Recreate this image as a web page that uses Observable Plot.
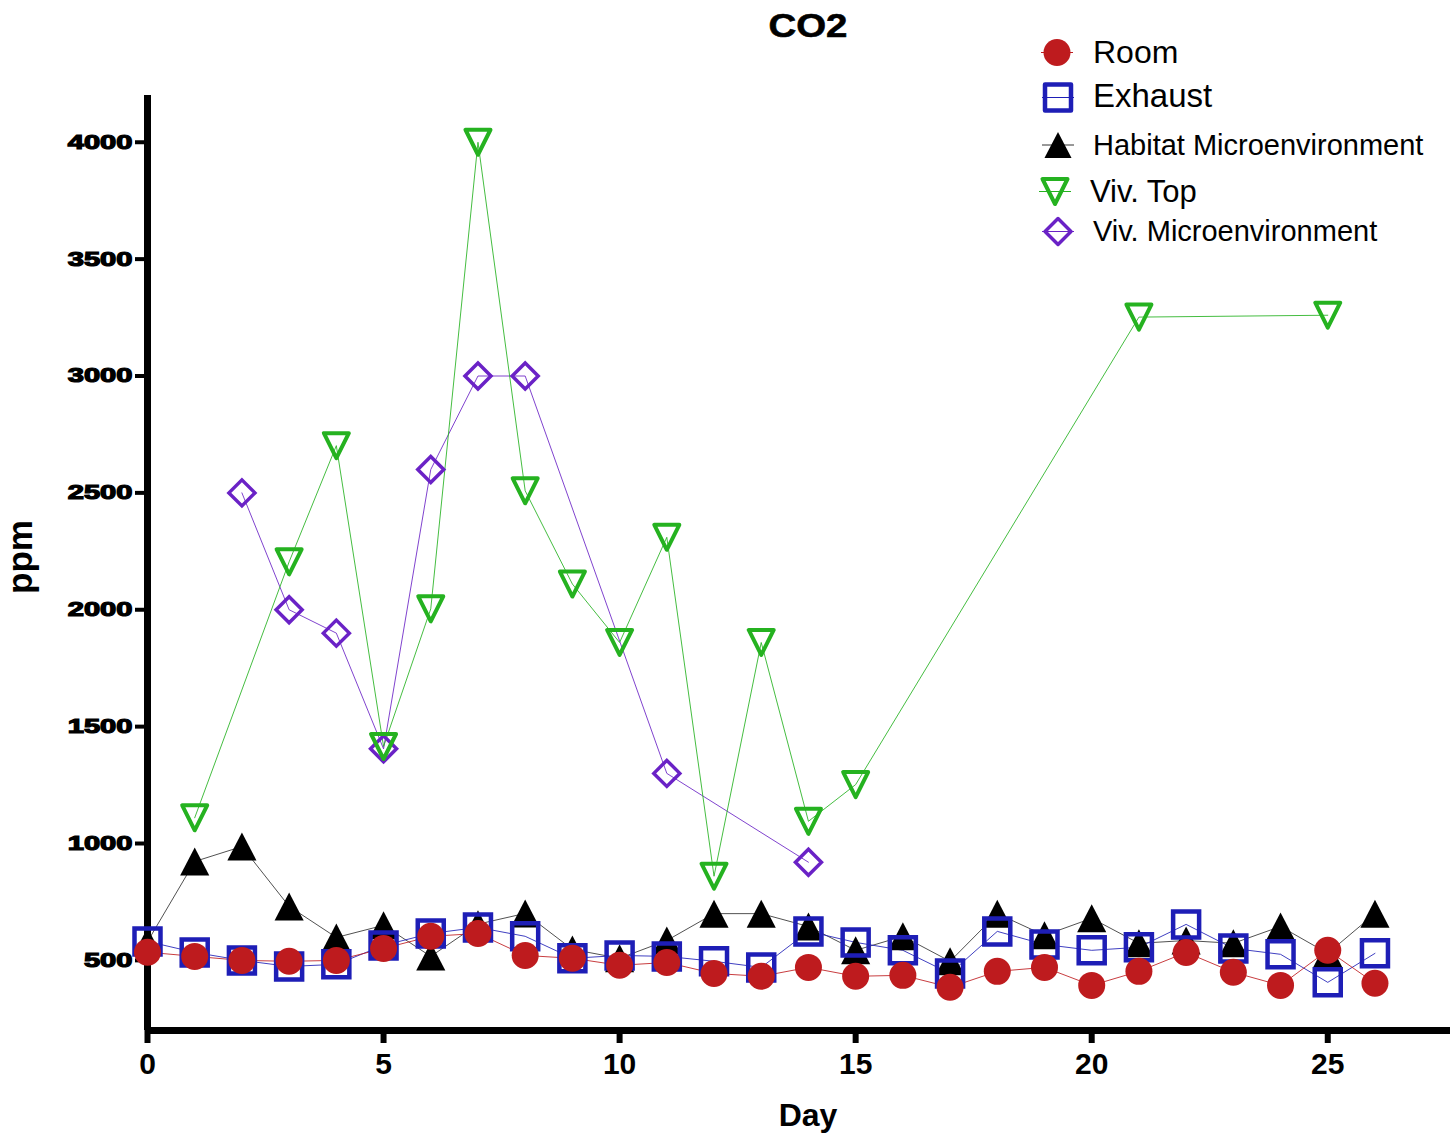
<!DOCTYPE html>
<html>
<head>
<meta charset="utf-8">
<script src="https://cdn.jsdelivr.net/npm/d3@7"></script>
<script src="https://cdn.jsdelivr.net/npm/@observablehq/plot@0.6"></script>
<style>
  body { margin: 0; background: #fff; }
  #wrap { position: relative; width: 1450px; height: 1134px; overflow: hidden; background: #fff; }
  #wrap > svg { position: absolute; left: 0; top: 0; }
  g[aria-label="y-axis tick label"] { font-family: "Liberation Sans", Arial, sans-serif; font-size: 20px; font-weight: bold; stroke: #000; stroke-width: 1.2px; }
  g[aria-label="x-axis tick label"] { font-family: "Liberation Sans", Arial, sans-serif; font-size: 30px; font-weight: bold; }
  #overlay text { font-family: "Liberation Sans", Arial, sans-serif; fill: #000; }
</style>
</head>
<body>
<div id="wrap"></div>
<script>
// ---- data ----
const days = [0,1,2,3,4,5,6,7,8,9,10,11,12,13,14,15,16,17,18,19,20,21,22,23,24,25,26];
const room = [535,517,500,496,500,551,603,615,521,509,479,491,444,432,470,432,436,385,453,470,393,453,534,449,393,543,402];
const exhaust = [581,534,500,474,483,564,615,641,603,509,521,517,496,470,624,577,543,444,624,568,543,556,654,551,526,406,530];
const habitat = [580,923,987,731,598,650,517,655,701,547,509,585,700,700,645,543,603,496,700,607,680,573,585,573,645,530,700];
const vivTopDays = [1,3,4,5,6,7,8,9,10,11,12,13,14,15,21,25];
const vivTop = [1110,2205,2702,1415,2004,4000,2509,2110,1860,2310,860,1860,1095,1252,3252,3260];
const vivMicroDays = [2,3,4,5,6,7,8,11,14];
const vivMicro = [2500,2000,1900,1405,2600,3000,3000,1300,920];
const xTicks = [0,5,10,15,20,25];
const yTicks = [500,1000,1500,2000,2500,3000,3500,4000];
const seriesNames = ["Room","Exhaust","Habitat Microenvironment","Viv. Top","Viv. Microenvironment"];
const colors = {room:"#BE1B1E", exhaust:"#1E1EB6", habitat:"#000000", vivTop:"#25B220", vivMicro:"#6A22C6"};

// ---- tables ----
const rows = (xs, ys) => xs.map((d, i) => ({day: d, v: ys[i]}));
const roomData = rows(days, room);
const exhaustData = rows(days, exhaust);
const habitatData = rows(days, habitat);
const vivTopData = rows(vivTopDays, vivTop);
const vivMicroData = rows(vivMicroDays, vivMicro);

// ---- custom symbols (bbox-centred) ----
const rad = s => Math.sqrt(s / Math.PI);
const symSquare = {draw(c, s){const r = rad(s); c.moveTo(-r,-r); c.lineTo(r,-r); c.lineTo(r,r); c.lineTo(-r,r); c.closePath();}};
const symTriUp = {draw(c, s){const r = rad(s); c.moveTo(0,-r); c.lineTo(r*1.04,r); c.lineTo(-r*1.04,r); c.closePath();}};
const symTriDown = {draw(c, s){const r = rad(s); c.moveTo(-r,-r); c.lineTo(r,-r); c.lineTo(0,r); c.closePath();}};
const symDiamond = {draw(c, s){const r = rad(s); c.moveTo(0,-r); c.lineTo(r,0); c.lineTo(0,r); c.lineTo(-r,0); c.closePath();}};

const lineOpts = (stroke) => ({x: "day", y: "v", stroke, strokeWidth: 1, strokeOpacity: 0.85});

const chart = Plot.plot({
  width: 1450,
  height: 1134,
  marginLeft: 147,
  marginRight: 0,
  marginTop: 95,
  marginBottom: 104,
  style: {background: "white", fontFamily: "Liberation Sans, Arial, sans-serif", overflow: "visible"},
  x: {domain: [0, 27.6]},
  y: {domain: [200, 4200]},
  marks: [
    Plot.ruleX([0], {strokeWidth: 7}),
    Plot.ruleY([200], {strokeWidth: 7}),
    Plot.axisX({ticks: xTicks, tickSize: 13, tickPadding: 9, strokeWidth: 6, tickFormat: d => String(d), label: null}),
    Plot.axisY({ticks: yTicks, tickSize: 12, tickPadding: 3, strokeWidth: 4, tickFormat: d => String(d), label: null}),
    Plot.line(vivMicroData, lineOpts(colors.vivMicro)),
    Plot.line(vivTopData, lineOpts(colors.vivTop)),
    Plot.line(habitatData, lineOpts("#333")),
    Plot.line(exhaustData, lineOpts(colors.exhaust)),
    Plot.line(roomData, lineOpts(colors.room)),
    Plot.dot(vivMicroData, {x: "day", y: "v", symbol: symDiamond, r: 13, stroke: colors.vivMicro, strokeWidth: 3.5, fill: "none"}),
    Plot.dot(vivTopData, {x: "day", y: "v", symbol: symTriDown, r: 12.5, stroke: colors.vivTop, strokeWidth: 4, strokeLinejoin: "round", fill: "none"}),
    Plot.dot(habitatData, {x: "day", y: "v", symbol: symTriUp, r: 14, fill: colors.habitat, stroke: "none"}),
    Plot.dot(exhaustData, {x: "day", y: "v", symbol: symSquare, r: 13, stroke: colors.exhaust, strokeWidth: 4.5, fill: "none"}),
    Plot.dot(roomData, {x: "day", y: "v", r: 13.5, fill: colors.room, stroke: "none"})
  ]
});

const wrap = document.getElementById("wrap");
wrap.appendChild(chart);

// stretch the heavy y tick labels like the reference
d3.select(chart).selectAll('g[aria-label="y-axis tick label"] text').each(function() {
  const t = this.textContent;
  this.setAttribute("textLength", (t.length * 16.2).toFixed(1));
  this.setAttribute("lengthAdjust", "spacingAndGlyphs");
});

// ---- overlay: title, axis labels, legend ----
const ov = d3.select(wrap).append("svg")
  .attr("id", "overlay")
  .attr("width", 1450).attr("height", 1134)
  .style("position", "absolute").style("left", 0).style("top", 0)
  .style("pointer-events", "none");

ov.append("text").attr("x", 808).attr("y", 37).attr("text-anchor", "middle")
  .attr("font-size", 34).attr("font-weight", "bold")
  .attr("stroke", "#000").attr("stroke-width", 0.6)
  .attr("textLength", 79).attr("lengthAdjust", "spacingAndGlyphs").text("CO2");

ov.append("text").attr("x", 808).attr("y", 1126).attr("text-anchor", "middle")
  .attr("font-size", 32).attr("font-weight", "bold").text("Day");

ov.append("text").attr("transform", "translate(32,557) rotate(-90)").attr("text-anchor", "middle")
  .attr("font-size", 35).attr("font-weight", "bold").text("ppm");

const legendItems = [
  {name: seriesNames[0], sym: d3.symbolCircle, r: 13.5, fill: colors.room, stroke: "none", sw: 0, mx: 1057, my: 52.5, tx: 1093, ty: 63.3, fs: 32},
  {name: seriesNames[1], sym: symSquare, r: 13, fill: "none", stroke: colors.exhaust, sw: 4.5, mx: 1058, my: 97.5, tx: 1093, ty: 107.3, fs: 33},
  {name: seriesNames[2], sym: symTriUp, r: 13, fill: "#000", stroke: "none", sw: 0, mx: 1058, my: 145, tx: 1093, ty: 155, fs: 29},
  {name: seriesNames[3], sym: symTriDown, r: 12.5, fill: "none", stroke: colors.vivTop, sw: 4, mx: 1055, my: 191.5, tx: 1090, ty: 201.7, fs: 31},
  {name: seriesNames[4], sym: symDiamond, r: 13, fill: "none", stroke: colors.vivMicro, sw: 3.5, mx: 1058, my: 231.5, tx: 1093, ty: 240.7, fs: 29}
];
const lineColors = [colors.room, colors.exhaust, "#333", colors.vivTop, colors.vivMicro];
legendItems.forEach((it, i) => {
  ov.append("line").attr("x1", it.mx - 16).attr("x2", it.mx + 16)
    .attr("y1", it.my).attr("y2", it.my).attr("stroke", lineColors[i]).attr("stroke-width", 1);
  ov.append("path").attr("transform", `translate(${it.mx},${it.my})`)
    .attr("d", d3.symbol(it.sym, it.r * it.r * Math.PI)())
    .attr("fill", it.fill).attr("stroke", it.stroke).attr("stroke-width", it.sw)
    .attr("stroke-linejoin", "round");
  ov.append("text").attr("x", it.tx).attr("y", it.ty).attr("font-size", it.fs).text(it.name);
});
</script>
</body>
</html>
